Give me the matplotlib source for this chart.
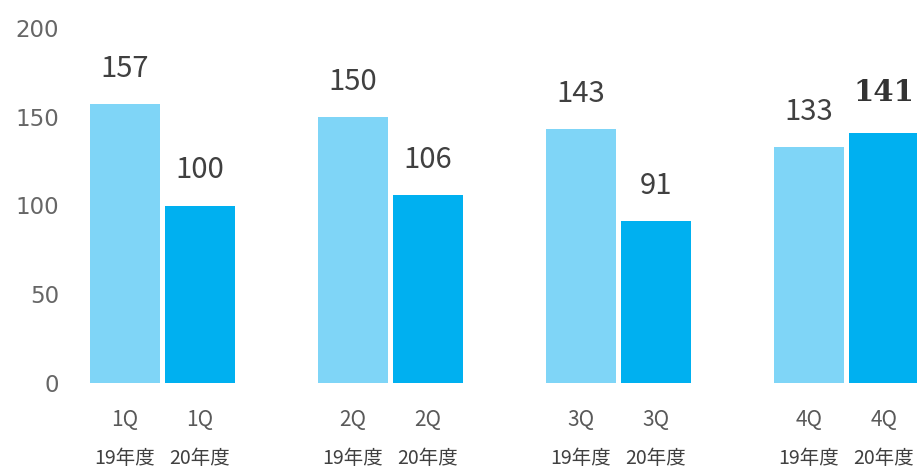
import matplotlib
matplotlib.use("Agg")
import matplotlib.pyplot as plt
import numpy as np

plt.rcParams['font.family'] = ['Noto Sans CJK JP', 'DejaVu Sans']

quarters = ["1Q", "2Q", "3Q", "4Q"]
years = ["19年度", "20年度"]
fy19 = [157, 150, 143, 133]
fy20 = [100, 106, 91, 141]
yticks = [0, 50, 100, 150, 200]

W, H = 917, 471
PX = 72 / 100  # points per pixel
fig = plt.figure(figsize=(W / 100, H / 100), dpi=100)
left_px, right_px, top_px, bottom_px = 70, 917, 28, 383
ax = fig.add_axes([left_px / W, (H - bottom_px) / H, (right_px - left_px) / W, (bottom_px - top_px) / H])

spacing = 228.0
bw = 70 / spacing
off = 37.5 / spacing
x = np.arange(len(quarters))
c_light = "#7fd5f7"
c_dark = "#00b0f0"

ax.bar(x - off, fy19, width=bw, color=c_light)
ax.bar(x + off, fy20, width=bw, color=c_dark)

for xi, v in zip(x - off, fy19):
    ax.annotate(str(v), (xi, v), xytext=(0, 35 * PX), textcoords="offset points",
                ha="center", va="center", fontsize=21, color="#404040")
for i, (xi, v) in enumerate(zip(x + off, fy20)):
    bold = i == len(fy20) - 1
    if bold:
        ax.annotate(str(v), (xi, v), xytext=(0, 40 * PX), textcoords="offset points",
                    ha="center", va="center", fontsize=21, color="#333333",
                    fontweight="bold", family=["DejaVu Serif"], annotation_clip=False)
    else:
        ax.annotate(str(v), (xi, v), xytext=(0, 35 * PX), textcoords="offset points",
                    ha="center", va="center", fontsize=21, color="#404040")

ax.set_xlim((left_px - 162.5) / spacing, (right_px - 162.5) / spacing)
ax.set_ylim(0, 200)
ax.set_yticks(yticks)
ax.set_yticklabels([str(t) for t in yticks], fontsize=16.5, color="#666666",
                   family=["DejaVu Sans"])
ax.tick_params(axis="y", length=0, pad=11 * PX)

ax.set_xticks([])
for j, (pos, yr) in enumerate(zip([x - off, x + off], years)):
    for xi, q in zip(pos, quarters):
        ax.annotate(q, (xi, 0), xycoords=("data", "axes fraction"), xytext=(0, -37 * PX),
                    textcoords="offset points", ha="center", va="center",
                    fontsize=15, color="#595959", annotation_clip=False)
        ax.annotate(yr, (xi, 0), xycoords=("data", "axes fraction"), xytext=(0, -76 * PX),
                    textcoords="offset points", ha="center", va="center",
                    fontsize=14, color="#404040", annotation_clip=False)

for s in ax.spines.values():
    s.set_visible(False)

fig.savefig("out.png", dpi=100)
